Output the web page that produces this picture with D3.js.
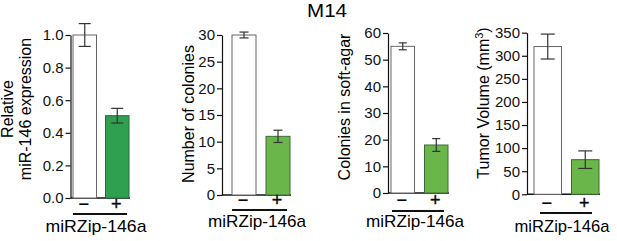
<!DOCTYPE html>
<html>
<head>
<meta charset="utf-8">
<script src="https://cdn.jsdelivr.net/npm/d3@7"></script>
<style>
  body { margin: 0; background: #fff; }
  svg { font-family: "Liberation Sans", Arial, Helvetica, sans-serif; }
</style>
</head>
<body>
<svg id="chart" width="617" height="241"></svg>
<script>
const groups = ["−", "+"];

const exprValues = [1.0, 0.505];
const exprErrors = [0.07, 0.045];
const exprTicks = [0, 0.2, 0.4, 0.6, 0.8, 1.0];

const colonyValues = [30, 11];
const colonyErrors = [0.55, 1.15];
const colonyTicks = [0, 5, 10, 15, 20, 25, 30];

const agarValues = [55, 18];
const agarErrors = [1.3, 2.4];
const agarTicks = [0, 10, 20, 30, 40, 50, 60];

const tumorValues = [320, 75];
const tumorErrors = [27, 19];
const tumorTicks = [0, 50, 100, 150, 200, 250, 300, 350];

const svg = d3.select("#chart");

svg.append("text")
    .attr("x", 307).attr("y", 17)
    .attr("font-size", 18)
    .attr("textLength", 40).attr("lengthAdjust", "spacingAndGlyphs")
    .text("M14");

function panel(p) {
    const g = svg.append("g");

    const x = d3.scaleBand().domain(groups)
        .range([p.barL, p.barR])
        .paddingInner(p.gap / ((p.barR - p.barL + p.gap) / 2))
        .paddingOuter(0);

    const y = d3.scaleLinear().domain([0, d3.max(p.ticks)])
        .range([p.base, p.top]);

    const axis = g.append("g")
        .attr("transform", `translate(${p.axisX},0)`)
        .call(d3.axisLeft(y).tickValues(p.ticks).tickFormat(p.fmt)
            .tickSize(5).tickSizeOuter(0).tickPadding(2));
    axis.selectAll("text").attr("font-size", 15).attr("fill", "#111")
        .attr("font-family", "Liberation Sans, Arial, sans-serif");
    axis.selectAll("line, path").attr("stroke", "#111").attr("stroke-width", 1.2);

    // baseline under the bars
    g.append("line")
        .attr("x1", p.axisX).attr("x2", p.barR + 1)
        .attr("y1", y(0)).attr("y2", y(0))
        .attr("stroke", "#111").attr("stroke-width", 1.6);

    const bw = x.bandwidth();
    g.selectAll("rect.bar")
        .data(p.values)
        .join("rect")
        .attr("class", "bar")
        .attr("x", (d, i) => x(groups[i]))
        .attr("y", d => y(d))
        .attr("width", bw)
        .attr("height", d => y(0) - y(d))
        .attr("fill", (d, i) => i === 0 ? "#fff" : p.color)
        .attr("stroke", (d, i) => i === 0 ? "#666" : p.edge)
        .attr("stroke-width", 1);

    p.values.forEach((v, i) => {
        const cx = x(groups[i]) + bw / 2;
        const e = p.errors[i];
        const cw = p.cap / 2;
        g.append("line").attr("x1", cx).attr("x2", cx)
            .attr("y1", y(v + e)).attr("y2", y(v - e))
            .attr("stroke", "#333").attr("stroke-width", 1.2);
        [v + e, v - e].forEach(t => {
            g.append("line").attr("x1", cx - cw).attr("x2", cx + cw)
                .attr("y1", y(t)).attr("y2", y(t))
                .attr("stroke", "#333").attr("stroke-width", 1.2);
        });
        g.append("text")
            .attr("x", cx - 1).attr("y", p.signY)
            .attr("text-anchor", "middle")
            .attr("font-size", 18)
            .attr("stroke", "#111").attr("stroke-width", 0.4)
            .text(groups[i]);
    });

    g.append("line")
        .attr("x1", p.ulL).attr("x2", p.ulR)
        .attr("y1", p.ulY).attr("y2", p.ulY)
        .attr("stroke", "#111").attr("stroke-width", 2);

    g.append("text")
        .attr("x", p.labX).attr("y", p.labY)
        .attr("text-anchor", "middle")
        .attr("font-size", 17)
        .attr("textLength", p.labW).attr("lengthAdjust", "spacingAndGlyphs")
        .text("miRZip-146a");

    p.title.forEach((line, k) => {
        const t = g.append("text")
            .attr("transform", `translate(${p.titleX[k]},${p.titleY}) rotate(-90)`)
            .attr("text-anchor", "middle")
            .attr("font-size", 16);
        if (line === "Tumor Volume (mm3)") {
            t.text("Tumor Volume (mm");
            t.append("tspan").attr("baseline-shift", "super").attr("font-size", 11).text("3");
            t.append("tspan").text(")");
        } else {
            t.text(line);
        }
    });
}

panel({
    values: exprValues, errors: exprErrors, ticks: exprTicks, fmt: d3.format(".1f"),
    axisX: 70.5, top: 35, base: 198, barL: 73, barR: 129, gap: 9, cap: 12,
    color: "#2fa04f", edge: "#2c6a3a",
    signY: 210, ulL: 73, ulR: 127, ulY: 214, labX: 96, labY: 232, labW: 101,
    title: ["Relative", "miR-146 expression"], titleX: [13, 31], titleY: 109
});

panel({
    values: colonyValues, errors: colonyErrors, ticks: colonyTicks, fmt: d3.format("d"),
    axisX: 222, top: 35, base: 195, barL: 232, barR: 290, gap: 10, cap: 9,
    color: "#6ab64a", edge: "#3d6a35",
    signY: 206, ulL: 232, ulR: 287, ulY: 210, labX: 257, labY: 227, labW: 98,
    title: ["Number of colonies"], titleX: [194], titleY: 114
});

panel({
    values: agarValues, errors: agarErrors, ticks: agarTicks, fmt: d3.format("d"),
    axisX: 388, top: 33, base: 193, barL: 391, barR: 448, gap: 10, cap: 8,
    color: "#6ab64a", edge: "#3d6a35",
    signY: 206, ulL: 392, ulR: 444, ulY: 211, labX: 415, labY: 227, labW: 98,
    title: ["Colonies in soft-agar"], titleX: [350], titleY: 107
});

panel({
    values: tumorValues, errors: tumorErrors, ticks: tumorTicks, fmt: d3.format("d"),
    axisX: 527, top: 32.7, base: 194.3, barL: 534, barR: 599, gap: 10, cap: 14,
    color: "#6ab64a", edge: "#3d6a35",
    signY: 209, ulL: 540, ulR: 592, ulY: 213, labX: 562, labY: 232, labW: 95,
    title: ["Tumor Volume (mm3)"], titleX: [489], titleY: 103
});
</script>
</body>
</html>
